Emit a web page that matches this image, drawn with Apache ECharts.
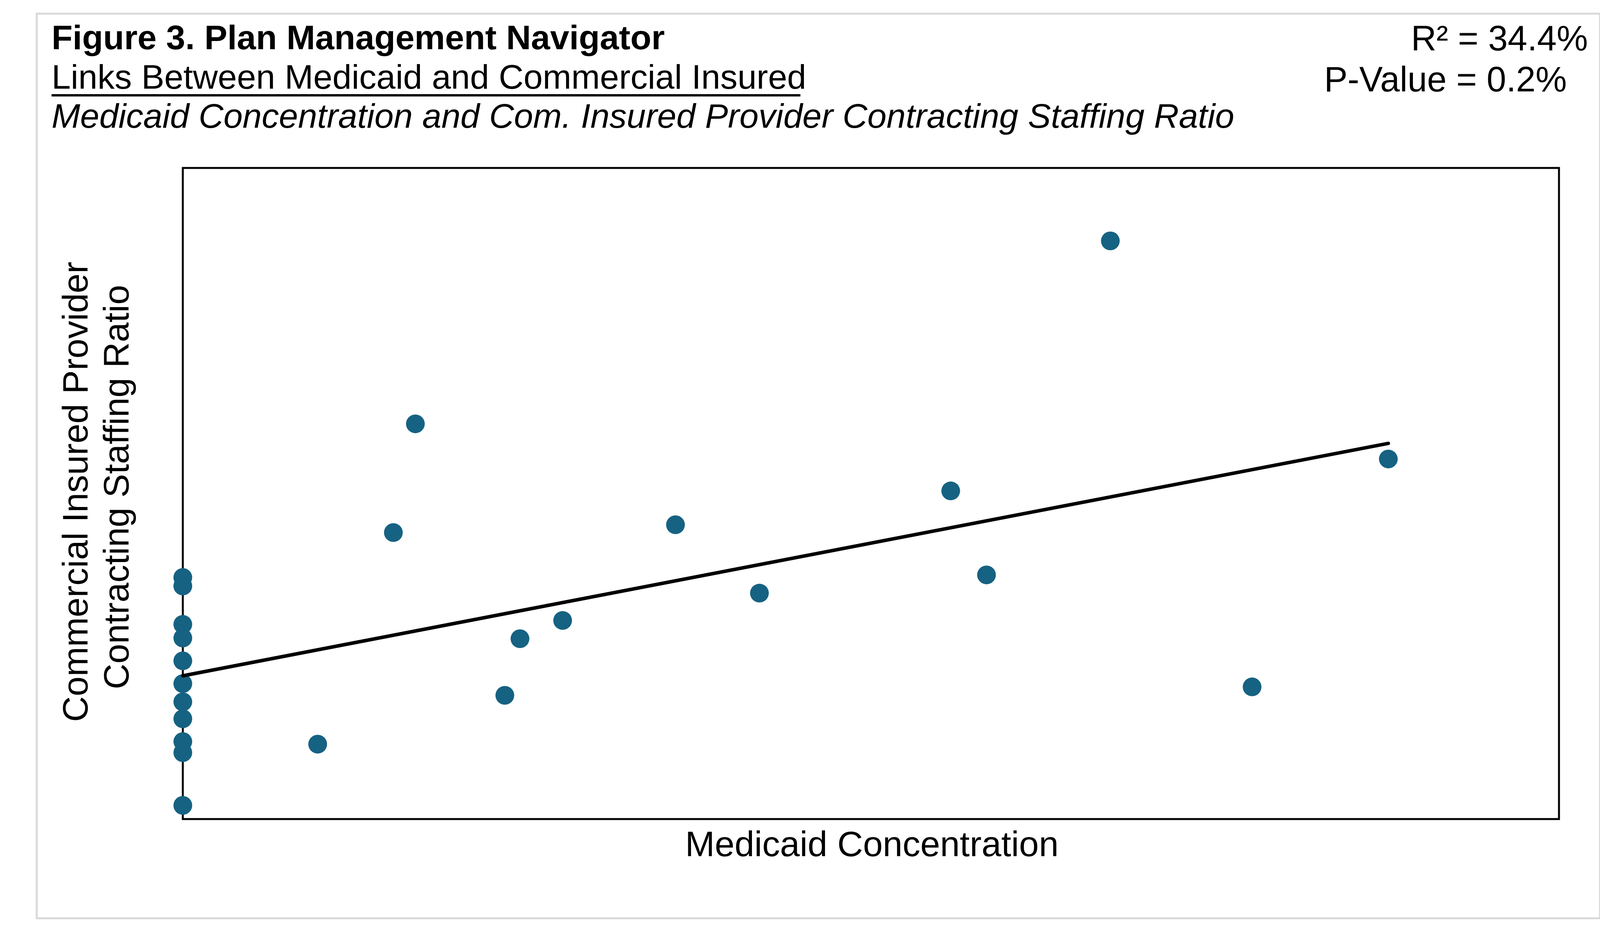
<!DOCTYPE html>
<html>
<head>
<meta charset="utf-8">
<title>Figure 3. Plan Management Navigator</title>
<script src="https://cdn.jsdelivr.net/npm/echarts@6/dist/echarts.min.js"></script>
<style>
  html, body { margin: 0; padding: 0; background: #ffffff; }
  #chart { width: 4189px; height: 2422px; }
</style>
</head>
<body>
<div id="chart"></div>
<script>
// plans with zero Medicaid concentration (all sit on the left axis)
var zeroMedicaidRatios = [37.1, 35.8, 29.9, 27.8, 24.3, 20.8, 18.0, 15.4, 11.9, 10.2, 2.1];

// plans with some Medicaid business
var medicaidShare = [9.8, 15.3, 16.9, 23.4, 24.5, 27.6, 35.8, 41.9, 55.8, 58.4, 67.4, 77.7, 87.6];
var staffingRatio = [11.5, 44.0, 60.7, 19.0, 27.7, 30.5, 45.2, 34.7, 50.4, 37.5, 88.8, 20.3, 55.3];

// fitted trend line
var trendX = [0, 87.6];
var trendY = [22.0, 57.7];

var rSquared = '34.4%';
var pValue = '0.2%';

var points = [];
zeroMedicaidRatios.forEach(function (v) { points.push([0, v]); });
medicaidShare.forEach(function (x, i) { points.push([x, staffingRatio[i]]); });

var trend = trendX.map(function (x, i) { return [x, trendY[i]]; });

var FONT = "'Liberation Sans', Arial, Helvetica, sans-serif";

var myChart = echarts.init(document.getElementById('chart'));

myChart.setOption({
    backgroundColor: '#ffffff',
    animation: false,
    grid: {
        left: 468,
        top: 430,
        right: 198,
        bottom: 325,
        show: true,
        borderColor: '#000000',
        borderWidth: 5,
        backgroundColor: 'transparent'
    },
    xAxis: {
        type: 'value',
        min: 0,
        max: 100,
        axisLine: { show: false },
        axisTick: { show: false },
        axisLabel: { show: false },
        splitLine: { show: false }
    },
    yAxis: {
        type: 'value',
        min: 0,
        max: 100,
        axisLine: { show: false },
        axisTick: { show: false },
        axisLabel: { show: false },
        splitLine: { show: false }
    },
    series: [
        {
            name: 'Plans',
            type: 'scatter',
            data: points,
            symbol: 'circle',
            symbolSize: 48,
            clip: false,
            z: 2,
            itemStyle: { color: '#166282', opacity: 1 }
        },
        {
            name: 'Trend',
            type: 'line',
            data: trend,
            symbol: 'none',
            clip: false,
            z: 3,
            lineStyle: { color: '#000000', width: 9, cap: 'round' }
        }
    ],
    graphic: [
        {
            type: 'rect',
            shape: { x: 94, y: 35, width: 4002, height: 2316 },
            style: { fill: 'none', stroke: '#d9d9d9', lineWidth: 5 },
            z: -10
        },
        {
            type: 'text',
            style: {
                x: 132, y: 101.5,
                text: 'Figure 3. Plan Management Navigator',
                font: 'bold 88px ' + FONT,
                fill: '#000000',
                textAlign: 'left',
                textVerticalAlign: 'middle'
            }
        },
        {
            type: 'text',
            style: {
                x: 132, y: 202.5,
                text: 'Links Between Medicaid and Commercial Insured',
                font: '88px ' + FONT,
                fill: '#000000',
                textAlign: 'left',
                textVerticalAlign: 'middle'
            }
        },
        {
            type: 'line',
            shape: { x1: 132, y1: 244, x2: 2049, y2: 244 },
            style: { stroke: '#000000', lineWidth: 6 }
        },
        {
            type: 'text',
            style: {
                x: 132, y: 302.5,
                text: 'Medicaid Concentration and Com. Insured Provider Contracting Staffing Ratio',
                font: 'italic 88px ' + FONT,
                fill: '#000000',
                textAlign: 'left',
                textVerticalAlign: 'middle'
            }
        },
        {
            type: 'text',
            style: {
                x: 4065, y: 104,
                text: 'R² = ' + rSquared,
                font: '90px ' + FONT,
                fill: '#000000',
                textAlign: 'right',
                textVerticalAlign: 'middle'
            }
        },
        {
            type: 'text',
            style: {
                x: 4011, y: 209,
                text: 'P-Value = ' + pValue,
                font: '90px ' + FONT,
                fill: '#000000',
                textAlign: 'right',
                textVerticalAlign: 'middle'
            }
        },
        {
            type: 'text',
            style: {
                x: 2232, y: 2166.5,
                text: 'Medicaid Concentration',
                font: '91px ' + FONT,
                fill: '#000000',
                textAlign: 'center',
                textVerticalAlign: 'middle'
            }
        },
        {
            type: 'text',
            x: 198.5, y: 1259,
            rotation: Math.PI / 2,
            style: {
                x: 0, y: 0,
                text: 'Commercial Insured Provider',
                font: '91px ' + FONT,
                fill: '#000000',
                textAlign: 'center',
                textVerticalAlign: 'middle'
            }
        },
        {
            type: 'text',
            x: 303.5, y: 1247,
            rotation: Math.PI / 2,
            style: {
                x: 0, y: 0,
                text: 'Contracting Staffing Ratio',
                font: '91px ' + FONT,
                fill: '#000000',
                textAlign: 'center',
                textVerticalAlign: 'middle'
            }
        }
    ]
});
</script>
</body>
</html>
